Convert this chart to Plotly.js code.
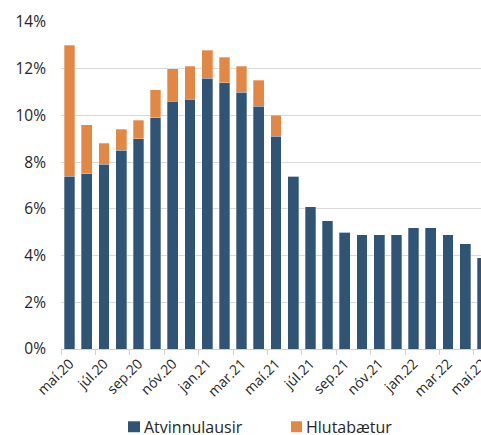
<!DOCTYPE html>
<html>
<head>
<meta charset="utf-8">
<script src="https://cdn.plot.ly/plotly-3.0.1.min.js"></script>
<style>
html, body { margin:0; padding:0; overflow:hidden; background:#fff; }
#chart { width:500px; height:435px; }
</style>
</head>
<body>
<div id="chart"></div>
<script>
const months = ['maí.20','jún.20','júl.20','ágú.20','sep.20','okt.20','nóv.20','des.20',
  'jan.21','feb.21','mar.21','apr.21','maí.21','jún.21','júl.21','ágú.21','sep.21','okt.21',
  'nóv.21','des.21','jan.22','feb.22','mar.22','apr.22','maí.22'];
const atvinnulausir = [7.4,7.5,7.9,8.5,9.0,9.9,10.6,10.7,11.6,11.4,11.0,10.4,9.1,7.4,6.1,5.5,5.0,4.9,4.9,4.9,5.2,5.2,4.9,4.5,3.9];
const hlutabaetur = [5.6,2.1,0.9,0.9,0.8,1.2,1.4,1.4,1.2,1.1,1.1,1.1,0.9,0,0,0,0,0,0,0,0,0,0,0,0];
const seriesNames = ['Atvinnulausir','Hlutabætur'];
const seriesColors = ['#2F5476','#E28744'];
const yTicks = [0,2,4,6,8,10,12,14];
const yTickText = ['0%','2%','4%','6%','8%','10%','12%','14%'];

const fontFam = 'Open Sans, sans-serif';
const textColor = '#262626';
const traces = [
  {type:'bar', x:months, y:atvinnulausir, name:seriesNames[0],
   marker:{color:seriesColors[0], line:{color:'rgba(255,255,255,0.6)', width:0.5}}},
  {type:'bar', x:months, y:hlutabaetur, name:seriesNames[1],
   marker:{color:seriesColors[1], line:{color:'rgba(255,255,255,0.6)', width:0.5}}}
];

// custom legend (swatch + label) placed below the plot
const L = 61, W = 430, T = 21.5, H = 328;
const px = v => (v - L) / W;
const py = v => (T + H - v) / H;
const legendItems = [
  {sw:[128,140], tx:142},
  {sw:[291,302], tx:304}
];
const shapes = legendItems.map((it, i) => ({
  type:'rect', xref:'paper', yref:'paper',
  x0:px(it.sw[0]), x1:px(it.sw[1]), y0:py(433), y1:py(422),
  fillcolor:seriesColors[i], line:{width:0}
}));
const annotations = legendItems.map((it, i) => ({
  xref:'paper', yref:'paper', x:px(it.tx), y:py(427.5), xanchor:'left', yanchor:'middle',
  text:seriesNames[i], showarrow:false, font:{size:16, family:fontFam, color:textColor}
}));

const layout = {
  width:500, height:435,
  barmode:'stack', bargap:0.38,
  margin:{l:L, r:500 - L - W, t:T, b:435 - T - H},
  paper_bgcolor:'#fff', plot_bgcolor:'#fff',
  font:{family:fontFam, color:textColor},
  showlegend:false,
  shapes:shapes, annotations:annotations,
  xaxis:{type:'category', range:[-0.5,24.5], tickmode:'linear', tick0:0, dtick:2,
         tickson:'boundaries', ticks:'outside', ticklen:5, tickcolor:'#d0d0d0', tickwidth:1,
         showline:true, linecolor:'#d0d0d0', linewidth:1, showgrid:false, automargin:false,
         tickangle:-45, tickfont:{size:14, family:fontFam, color:textColor}},
  yaxis:{range:[0,14], tickvals:yTicks, ticktext:yTickText, showgrid:true, automargin:false,
         gridcolor:'#d9d9d9', gridwidth:1.2, zeroline:false, showline:false,
         ticks:'', ticklabelstandoff:14,
         tickfont:{size:15.5, family:fontFam, color:textColor}}
};
Plotly.newPlot('chart', traces, layout, {displayModeBar:false, staticPlot:true});
</script>
</body>
</html>
